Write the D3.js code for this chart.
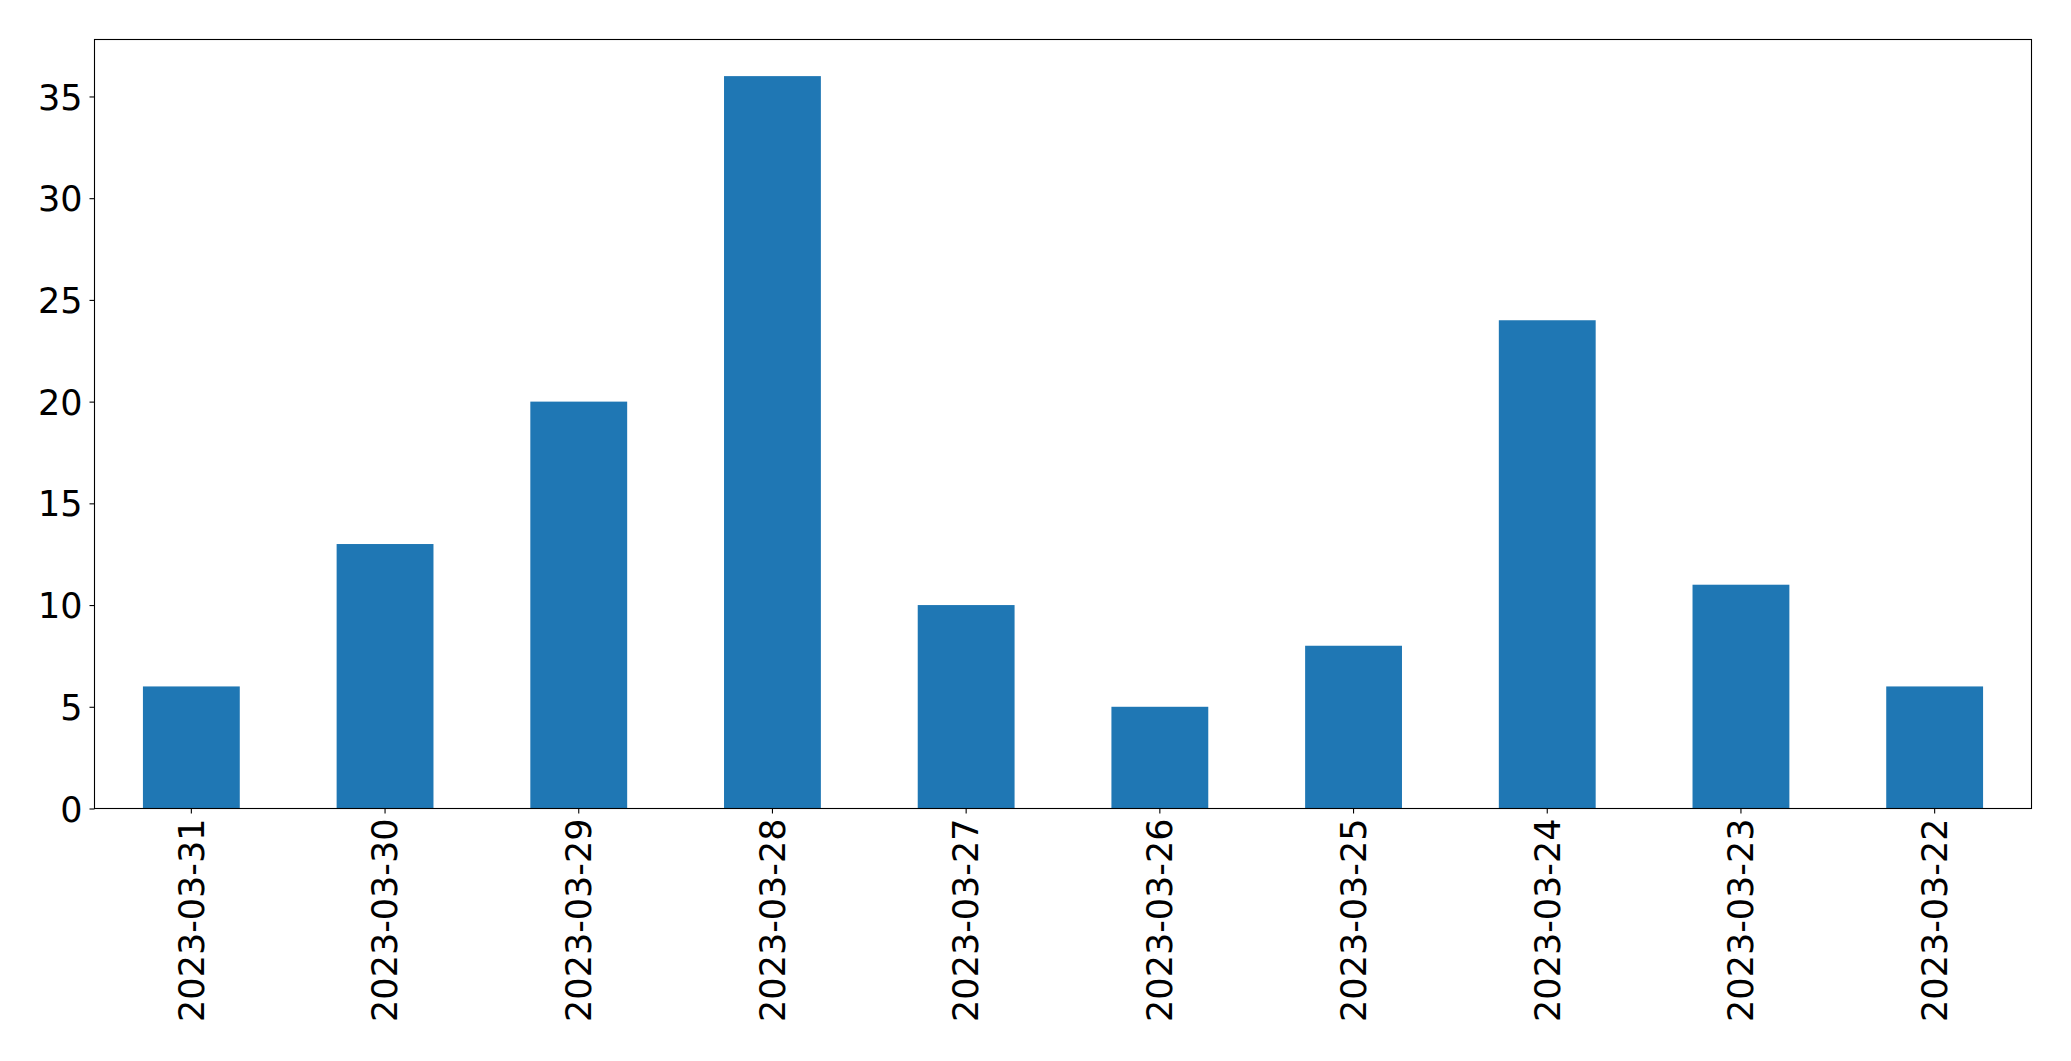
<!doctype html>
<html lang="en">
<head>
  <meta charset="utf-8">
  <title>Bar chart</title>
  <script src="https://d3js.org/d3.v7.min.js"></script>
  <style>
  body { margin: 0; background: #fff; }
  .bar { fill: #1f77b4; }
  .tick text { font-family: "DejaVu Sans", sans-serif; fill: #000; }
  </style>
</head>
<body>
<script>
  // data
  var dates = ["2023-03-31", "2023-03-30", "2023-03-29", "2023-03-28", "2023-03-27",
               "2023-03-26", "2023-03-25", "2023-03-24", "2023-03-23", "2023-03-22"];
  var counts = [6, 13, 20, 36, 10, 5, 8, 24, 11, 6];
  var yTicks = [0, 5, 10, 15, 20, 25, 30, 35];

  var W = 2071, H = 1061;
  var margin = {top: 39.5, right: 39.5, bottom: 252.5, left: 94.5},
      width = W - margin.left - margin.right,
      height = H - margin.top - margin.bottom;

  var svg = d3.select("body").append("svg")
      .attr("width", W)
      .attr("height", H)
    .append("g")
      .attr("transform", "translate(" + margin.left + "," + margin.top + ")");

  // matplotlib style band: xlim -0.5..n-0.5, bar width 0.5
  var x = d3.scaleBand()
      .domain(dates)
      .range([0, width])
      .paddingInner(0.5)
      .paddingOuter(0.25);
  var y = d3.scaleLinear()
      .domain([0, d3.max(counts) * 1.05])
      .range([height, 0]);

  var data = dates.map(function(d, i) { return {date: d, value: counts[i]}; });

  svg.selectAll(".bar")
      .data(data)
    .enter().append("rect")
      .attr("class", "bar")
      .attr("x", function(d) { return x(d.date); })
      .attr("width", x.bandwidth())
      .attr("y", function(d) { return y(d.value); })
      .attr("height", function(d) { return height - y(d.value); });

  // frame
  svg.append("rect")
      .attr("width", width)
      .attr("height", height)
      .attr("fill", "none")
      .attr("stroke", "#000")
      .attr("stroke-width", 1.1);

  // x axis
  var gx = svg.append("g")
      .attr("transform", "translate(0," + height + ")")
      .call(d3.axisBottom(x).tickSize(5).tickPadding(5).tickSizeOuter(0));
  gx.select(".domain").remove();
  gx.selectAll("line").attr("stroke", "#000").attr("stroke-width", 1.1);
  gx.selectAll("text")
      .style("font-size", "35px")
      .attr("transform", "rotate(-90)")
      .attr("x", -10)
      .attr("y", 0)
      .attr("dy", "0.35em")
      .style("text-anchor", "end");

  // y axis
  var gy = svg.append("g")
      .call(d3.axisLeft(y).tickValues(yTicks).tickSize(5).tickPadding(7).tickSizeOuter(0));
  gy.select(".domain").remove();
  gy.selectAll("line").attr("stroke", "#000").attr("stroke-width", 1.1);
  gy.selectAll("text")
      .style("font-size", "35px")
      .attr("dy", "0.36em");
</script>
</body>
</html>
